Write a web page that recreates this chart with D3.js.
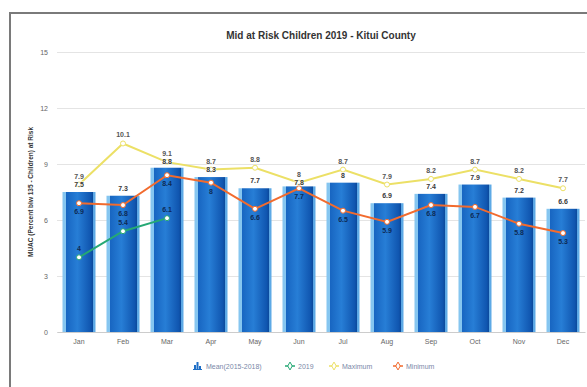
<!DOCTYPE html>
<html>
<head>
<meta charset="utf-8">
<script src="https://cdn.jsdelivr.net/npm/d3@7"></script>
<style>
  html, body { margin: 0; padding: 0; background: #fff; }
  svg { display: block; font-family: "Liberation Sans", Arial, sans-serif; }
</style>
</head>
<body>
<svg id="chart" width="587" height="387"></svg>
<script>
// Monthly MUAC at-risk figures, Kitui County
const months = ["Jan", "Feb", "Mar", "Apr", "May", "Jun", "Jul", "Aug", "Sep", "Oct", "Nov", "Dec"];
const meanValues = [7.5, 7.3, 8.8, 8.3, 7.7, 7.8, 8.0, 6.9, 7.4, 7.9, 7.2, 6.6];
const values2019 = [4.0, 5.4, 6.1];
const maxValues = [7.9, 10.1, 9.1, 8.7, 8.8, 8.0, 8.7, 7.9, 8.2, 8.7, 8.2, 7.7];
const minValues = [6.9, 6.8, 8.4, 8.0, 6.6, 7.7, 6.5, 5.9, 6.8, 6.7, 5.8, 5.3];
const yTicks = [0, 3, 6, 9, 12, 15];

const svg = d3.select("#chart");
const fmt = v => (Math.round(v * 10) / 10).toString();

const x = d3.scaleBand().domain(months).range([57, 585]).paddingInner(0.25).paddingOuter(0.125);
const y = d3.scaleLinear().domain([0, 15]).range([332, 52]);
const cx = m => x(m) + x.bandwidth() / 2;

// Outer frame
svg.append("rect").attr("x", 10).attr("y", 13).attr("width", 620).attr("height", 420)
  .attr("fill", "none").attr("stroke", "#7a7a7a").attr("stroke-width", 2);

// Title
svg.append("text").attr("x", 321).attr("y", 39).attr("text-anchor", "middle")
  .attr("font-size", 10).attr("font-weight", "bold").attr("fill", "#333")
  .text("Mid at Risk Children 2019 - Kitui County");

// Bar gradient
const defs = svg.append("defs");
const grad = defs.append("linearGradient").attr("id", "barGrad").attr("x1", 0).attr("x2", 1).attr("y1", 0).attr("y2", 0);
[[0, "#86c6f0"], [0.1, "#86c6f0"], [0.12, "#1866c2"], [0.45, "#277ed6"], [0.85, "#1056b0"], [0.92, "#0c4a9c"], [0.94, "#5eaae6"], [1, "#5eaae6"]]
  .forEach(([o, c]) => grad.append("stop").attr("offset", o).attr("stop-color", c));

// Gridlines and y axis
const yAxis = d3.axisLeft(y).tickValues(yTicks).tickSize(-(585 - 57)).tickFormat(d3.format("d"));
const gy = svg.append("g").attr("transform", "translate(57,0)").call(yAxis);
gy.select(".domain").remove();
gy.selectAll(".tick line").attr("stroke", "#e4e4e4");
gy.selectAll(".tick text").attr("x", -9).attr("font-size", 7).attr("fill", "#666")
  .attr("font-family", "Liberation Sans, Arial, sans-serif");

// x axis
const xAxis = d3.axisBottom(x).tickSize(0).tickPadding(7);
const gx = svg.append("g").attr("transform", "translate(0,332)").call(xAxis);
gx.select(".domain").attr("stroke", "#ccc");
gx.selectAll(".tick text").attr("font-size", 7).attr("fill", "#666")
  .attr("font-family", "Liberation Sans, Arial, sans-serif");

// y axis title
svg.append("text").attr("transform", "translate(33,192) rotate(-90)").attr("text-anchor", "middle")
  .attr("font-size", 6.5).attr("font-weight", "bold").attr("fill", "#333")
  .text("MUAC (Percent blw 135 - Children) at Risk");

// Bars
svg.append("g").selectAll("rect").data(months).join("rect")
  .attr("x", m => x(m)).attr("width", x.bandwidth())
  .attr("y", (m, i) => y(meanValues[i])).attr("height", (m, i) => y(0) - y(meanValues[i]))
  .attr("fill", "url(#barGrad)");

// Line series
function drawSeries(vals, color) {
  const pts = vals.map((v, i) => [cx(months[i]), y(v)]);
  svg.append("path").datum(pts).attr("d", d3.line())
    .attr("fill", "none").attr("stroke", color).attr("stroke-width", 2);
  svg.append("g").selectAll("circle").data(pts).join("circle")
    .attr("cx", d => d[0]).attr("cy", d => d[1]).attr("r", 2.5)
    .attr("fill", "#fff").attr("stroke", color).attr("stroke-width", 1);
}
drawSeries(maxValues, "#ece066");
drawSeries(minValues, "#f26b2e");
drawSeries(values2019, "#25a874");

// Data labels
function labels(vals, ys, color, halo) {
  svg.append("g").selectAll("text").data(vals).join("text")
    .attr("x", (v, i) => cx(months[i])).attr("y", (v, i) => ys(v, i))
    .attr("text-anchor", "middle").attr("font-size", 7).attr("font-weight", "bold")
    .attr("fill", color)
    .attr("stroke", halo ? "rgba(255,255,255,0.6)" : "none").attr("stroke-width", 1.5)
    .attr("paint-order", "stroke")
    .text(fmt);
}
const maxLabelY = (v) => y(v) - 6;
// Mean labels sit above the bar, pushed below the maximum label when the two would collide
const meanLabelY = (v, i) => {
  const own = y(v) - 5, above = maxLabelY(maxValues[i]);
  return Math.abs(own - above) < 8 ? above + 8 : own;
};
labels(maxValues, maxLabelY, "#555", true);
labels(meanValues, meanLabelY, "#3a3a3a", true);
labels(minValues, v => y(v) + 11, "#0d2a55", false);
labels(values2019, v => y(v) - 6, "#0d2a55", false);

// Legend
const lg = svg.append("g").attr("font-size", 7).attr("fill", "#7a88a8");
[[0, 4], [2.5, 7], [5, 3]].forEach(([dx, h]) =>
  lg.append("rect").attr("x", 194 + dx).attr("y", 369 - h).attr("width", 2).attr("height", h).attr("fill", "#1f6fc6"));
lg.append("rect").attr("x", 193).attr("y", 369).attr("width", 9).attr("height", 1).attr("fill", "#1f6fc6");
lg.append("text").attr("x", 206).attr("y", 369).text("Mean(2015-2018)");
const legendItems = [
  { name: "2019", color: "#25a874", x: 290 },
  { name: "Maximum", color: "#ece066", x: 334 },
  { name: "Minimum", color: "#f26b2e", x: 398 }
];
legendItems.forEach(it => {
  lg.append("line").attr("x1", it.x - 5).attr("x2", it.x + 5).attr("y1", 366).attr("y2", 366)
    .attr("stroke", it.color).attr("stroke-width", 1.5);
  lg.append("path").attr("d", d3.symbol(d3.symbolDiamond, 18)()).attr("transform", `translate(${it.x},366)`)
    .attr("fill", "#fff").attr("stroke", it.color);
  lg.append("text").attr("x", it.x + 8).attr("y", 369).text(it.name);
});
</script>
</body>
</html>
